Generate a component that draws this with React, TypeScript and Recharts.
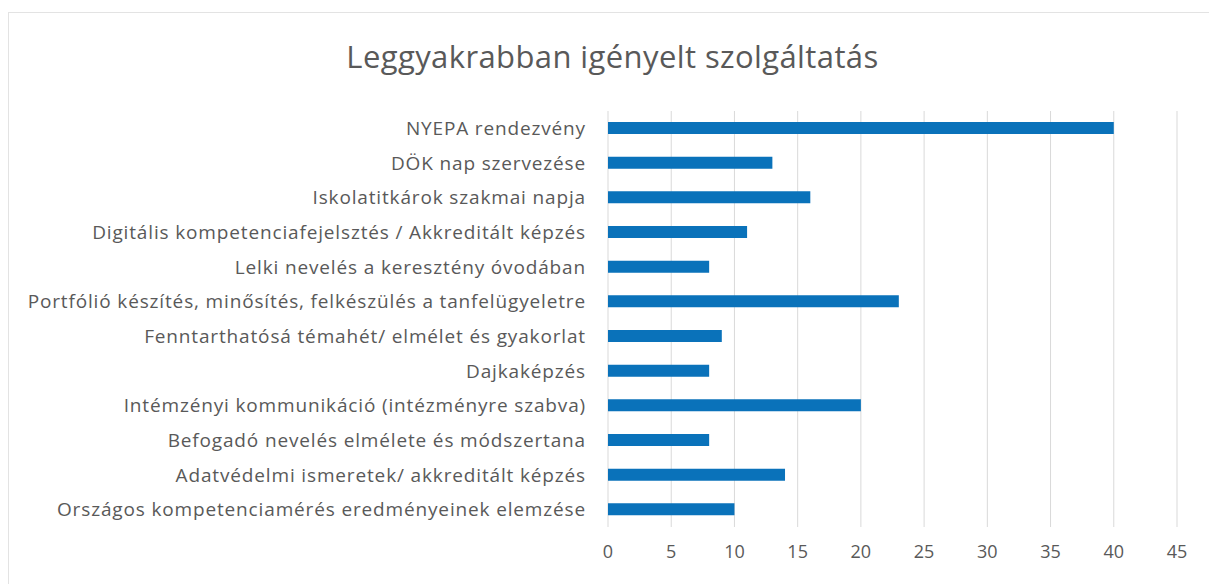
import React from 'react';
import { BarChart, Bar, XAxis, YAxis, CartesianGrid } from 'recharts';

const CATEGORIES = [
  'NYEPA rendezvény',
  'DÖK nap szervezése',
  'Iskolatitkárok szakmai napja',
  'Digitális kompetenciafejelsztés / Akkreditált képzés',
  'Lelki nevelés a keresztény óvodában',
  'Portfólió készítés, minősítés, felkészülés a tanfelügyeletre',
  'Fenntarthatósá témahét/ elmélet és gyakorlat',
  'Dajkaképzés',
  'Intémzényi kommunikáció (intézményre szabva)',
  'Befogadó nevelés elmélete és módszertana',
  'Adatvédelmi ismeretek/ akkreditált képzés',
  'Országos kompetenciamérés eredményeinek elemzése',
];
const VALUES = [40, 13, 16, 11, 8, 23, 9, 8, 20, 8, 14, 10];
const X_TICKS = [0, 5, 10, 15, 20, 25, 30, 35, 40, 45];

const TITLE = 'Leggyakrabban igényelt szolgáltatás';

const FONT = "'Open Sans', sans-serif";
const TEXT = '#595959';
const BAR = '#0a72ba';
const GRID = '#d9d9d9';

export default function App() {
  const data = CATEGORIES.map((name, i) => ({ name, value: VALUES[i] }));

  return (
    <div style={{ position: 'absolute', left: 0, top: 0, width: 1209, height: 584, background: '#fff', fontFamily: FONT }}>
      {/* faint chart-area frame, as in the scanned original */}
      <div
        style={{
          position: 'absolute', left: 8, top: 12, width: 1201, height: 572,
          borderLeft: '1px solid #e3e3e3', borderTop: '1px solid #e3e3e3', boxSizing: 'border-box',
        }}
      />
      <div
        style={{
          position: 'absolute', left: 0, top: 36, width: 1225, textAlign: 'center',
          fontSize: 31, letterSpacing: 0.4, color: TEXT, fontFamily: FONT, lineHeight: '40px',
        }}
      >
        {TITLE}
      </div>
      <BarChart
        width={1209}
        height={584}
        data={data}
        layout="vertical"
        margin={{ top: 111, right: 32, bottom: 27, left: 0 }}
        barSize={12}
        style={{ position: 'absolute', left: 0, top: 0 }}
      >
        <CartesianGrid stroke={GRID} horizontal={false} vertical />
        <XAxis
          type="number"
          domain={[0, 45]}
          ticks={X_TICKS}
          interval={0}
          axisLine={false}
          tickLine={false}
          height={30}
          tickMargin={12}
          tick={{ fontSize: 18, fill: TEXT, fontFamily: FONT }}
        />
        <YAxis
          type="category"
          dataKey="name"
          width={608}
          axisLine={false}
          tickLine={false}
          tickMargin={16}
          interval={0}
          tick={{ fontSize: 19, fill: TEXT, fontFamily: FONT, letterSpacing: 0.85 }}
        />
        <Bar dataKey="value" fill={BAR} isAnimationActive={false} />
      </BarChart>
    </div>
  );
}
